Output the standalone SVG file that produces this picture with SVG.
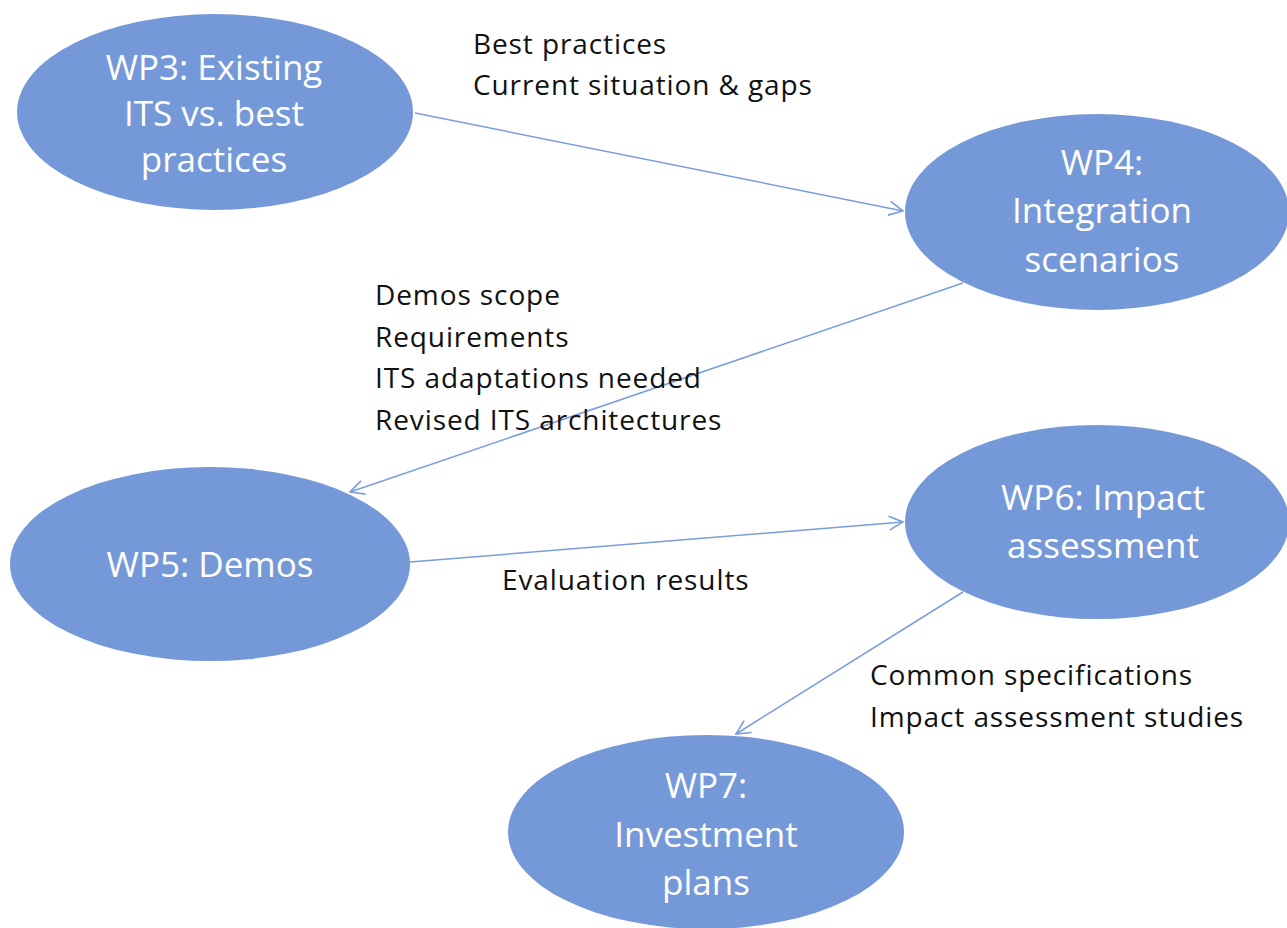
<svg xmlns="http://www.w3.org/2000/svg" width="1287" height="928" viewBox="0 0 1287 928">
<defs>
<marker id="arr" viewBox="0 0 16 16" refX="15" refY="8" markerWidth="16" markerHeight="16" markerUnits="userSpaceOnUse" orient="auto">
<path d="M1,1 L15,8 L1,15" fill="none" stroke="#7A9DDB" stroke-width="1.6"/>
</marker>
<style>
.node{fill:#7599D8;}
.nt{font-family:"Open Sans","Liberation Sans",sans-serif;font-size:35px;fill:#ffffff;text-anchor:middle;}
.lb{font-family:"Open Sans","Liberation Sans",sans-serif;font-size:28px;letter-spacing:0.9px;fill:#111111;}
.edge{stroke:#7A9DDB;stroke-width:1.5;fill:none;marker-end:url(#arr);}
</style>
</defs>
<rect width="1287" height="928" fill="#ffffff"/>
<g id="connectors">
<line class="edge" x1="415" y1="113" x2="903" y2="211"/>
<line class="edge" x1="963" y1="283" x2="350" y2="492"/>
<line class="edge" x1="410" y1="562" x2="903" y2="522"/>
<line class="edge" x1="963" y1="592" x2="736" y2="734"/>
</g>
<g id="wp3">
<ellipse class="node" cx="215" cy="112" rx="198" ry="98"/>
<text class="nt" x="214" y="80">WP3: Existing</text>
<text class="nt" x="214" y="126">ITS vs. best</text>
<text class="nt" x="214" y="172">practices</text>
</g>
<g id="wp4">
<ellipse class="node" cx="1097" cy="212" rx="192" ry="98"/>
<text class="nt" x="1102" y="175">WP4:</text>
<text class="nt" x="1102" y="223">Integration</text>
<text class="nt" x="1102" y="272">scenarios</text>
</g>
<g id="wp5">
<ellipse class="node" cx="210" cy="564" rx="200" ry="97"/>
<text class="nt" x="210" y="577">WP5: Demos</text>
</g>
<g id="wp6">
<ellipse class="node" cx="1097" cy="522" rx="192" ry="97"/>
<text class="nt" x="1103" y="510">WP6: Impact</text>
<text class="nt" x="1103" y="558">assessment</text>
</g>
<g id="wp7">
<ellipse class="node" cx="706" cy="832" rx="198" ry="97"/>
<text class="nt" x="706" y="798">WP7:</text>
<text class="nt" x="706" y="847">Investment</text>
<text class="nt" x="706" y="895">plans</text>
</g>
<g id="labels">
<text class="lb" x="473" y="54">Best practices</text>
<text class="lb" x="473" y="95">Current situation &amp; gaps</text>
<text class="lb" x="375" y="305">Demos scope</text>
<text class="lb" x="375" y="347">Requirements</text>
<text class="lb" x="375" y="388">ITS adaptations needed</text>
<text class="lb" x="375" y="430">Revised ITS architectures</text>
<text class="lb" x="502" y="590">Evaluation results</text>
<text class="lb" x="870" y="685">Common specifications</text>
<text class="lb" x="870" y="727">Impact assessment studies</text>
</g>
</svg>
